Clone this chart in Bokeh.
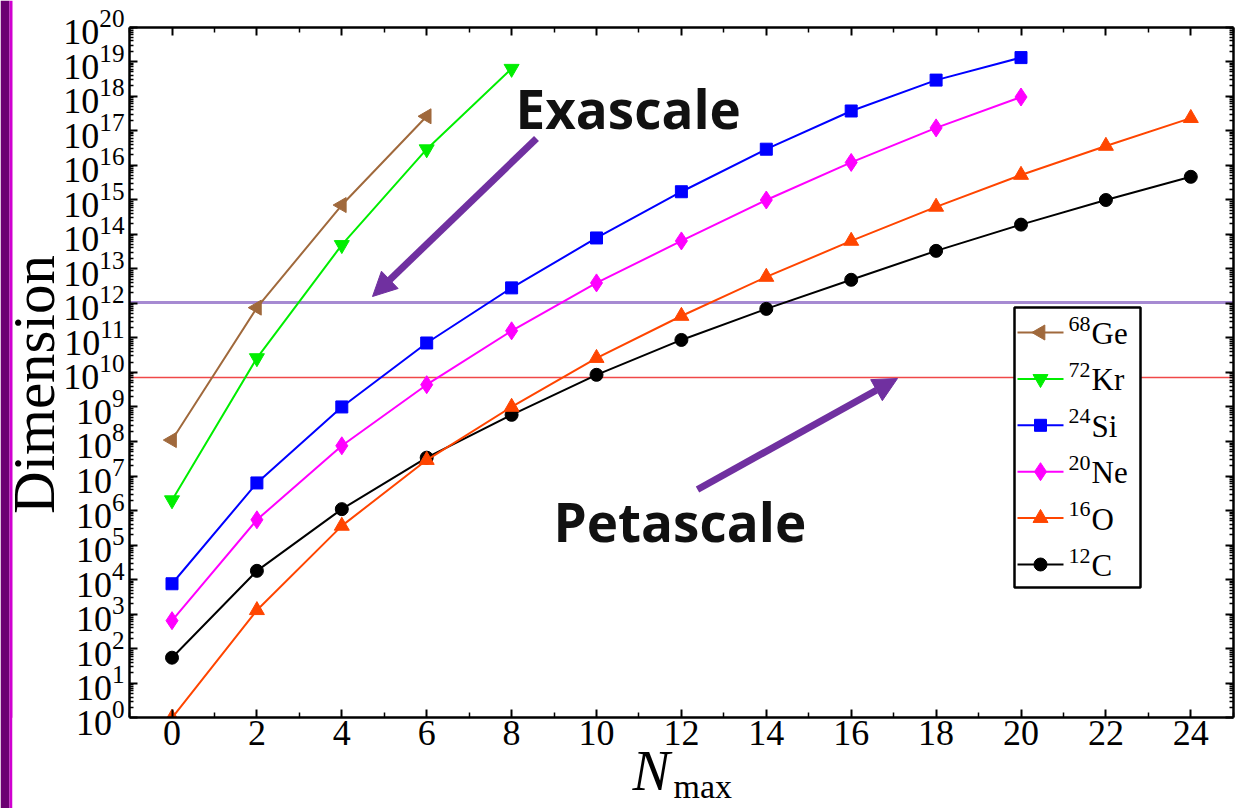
import math
from bokeh.plotting import figure
from bokeh.models import (Range1d, FixedTicker, LinearAxis, LogAxis, Arrow, NormalHead,
                          Label, CustomJSTickFormatter, BoxAnnotation)
from bokeh.embed import file_html
from bokeh.resources import INLINE

# ---------------- data ----------------
nmax = [0, 2, 4, 6, 8, 10, 12, 14, 16, 18, 20, 22, 24]
ge68 = [1.1e8, 7.5e11, 7.0e14, 2.6e17]
kr72 = [2.0e6, 2.6e10, 4.9e13, 2.9e16, 6.2e18]
si24 = [7.6e3, 6.3e6, 1.0e9, 7.1e10, 2.8e12, 7.8e13, 1.7e15, 2.9e16, 3.7e17, 2.9e18, 1.3e19]
ne20 = [650, 5.4e5, 7.5e7, 4.4e9, 1.6e11, 3.9e12, 6.4e13, 9.8e14, 1.2e16, 1.2e17, 9.4e17]
o16 = [1.0, 1.3e3, 3.6e5, 2.9e7, 1.0e9, 2.6e10, 4.3e11, 5.8e12, 6.4e13, 6.2e14, 5.2e15, 3.6e16, 2.3e17]
c12 = [55, 1.8e4, 1.1e6, 3.4e7, 5.9e8, 8.5e9, 8.7e10, 6.9e11, 4.8e12, 3.3e13, 1.9e14, 9.8e14, 4.6e15]

legend_elements = ["Ge", "Kr", "Si", "Ne", "O", "C"]
legend_masses = ["68", "72", "24", "20", "16", "12"]

exascale_level = 1.05e12
petascale_level = 7.1e9

x_lo, x_hi = -1, 25
y_lo, y_hi = 1.0, 1e20
x_major_ticks = [0, 2, 4, 6, 8, 10, 12, 14, 16, 18, 20, 22, 24]
x_minor_ticks = [-1, 1, 3, 5, 7, 9, 11, 13, 15, 17, 19, 21, 23, 25]
y_exponents = list(range(0, 21))
y_major_ticks = [10.0 ** k for k in y_exponents]
y_minor_ticks = [m * 10.0 ** k for k in range(0, 20) for m in range(2, 10)]

# ---------------- page layout calibration ----------------
W, H = 1240, 808
PX_X0, PX_PER_N = 171.5, 42.45     # page x of Nmax=0, px per unit
PX_Y0, PX_PER_DEC = 717.3, 34.54   # page y of 10^0, px per decade


def X(px):
    return (px - PX_X0) / PX_PER_N


def Y(py):
    return 10 ** ((PX_Y0 - py) / PX_PER_DEC)


SERIF = "Liberation Serif"
PURPLE = "#7030a0"

p = figure(width=W, height=H, x_range=Range1d(X(0), X(W)), y_range=Range1d(Y(H), Y(0)),
           y_axis_type="log", output_backend="svg", toolbar_location=None,
           min_border=0, min_border_left=0, min_border_right=0, min_border_top=0, min_border_bottom=0,
           background_fill_color="white", border_fill_color="white")
p.grid.visible = False
p.outline_line_color = None

# decorative slide strip on the left edge
p.add_layout(BoxAnnotation(left=X(0), right=X(9), fill_color="#6b0072", fill_alpha=1.0,
                           line_color=None, level="underlay"))
p.add_layout(BoxAnnotation(left=X(9), right=X(12), fill_color="#d000d0", fill_alpha=1.0,
                           line_color=None, level="underlay"))

bottom_axis = p.below[0]
left_axis = p.left[0]

xt = FixedTicker(ticks=x_major_ticks, minor_ticks=x_minor_ticks)
yt = FixedTicker(ticks=y_major_ticks, minor_ticks=y_minor_ticks)
bottom_axis.ticker = xt
left_axis.ticker = yt
bottom_axis.fixed_location = y_lo
bottom_axis.bounds = (x_lo, x_hi)
left_axis.fixed_location = x_lo
left_axis.bounds = (y_lo, y_hi)

blank = CustomJSTickFormatter(code="return ''")
top_axis = LinearAxis(ticker=xt, formatter=blank, fixed_location=y_hi, bounds=(x_lo, x_hi))
right_axis = LogAxis(ticker=yt, formatter=blank, fixed_location=x_hi, bounds=(y_lo, y_hi))
p.add_layout(top_axis, "above")
p.add_layout(right_axis, "right")

for ax in [bottom_axis, left_axis, top_axis, right_axis]:
    ax.axis_line_color = "black"
    ax.axis_line_width = 2.5
    ax.major_tick_in = 8
    ax.major_tick_out = 0
    ax.minor_tick_in = 4
    ax.minor_tick_out = 0
    ax.major_tick_line_color = "black"
    ax.major_tick_line_width = 2
    ax.minor_tick_line_color = "black"
    ax.minor_tick_line_width = 1.5
    ax.major_label_text_font = SERIF
    ax.major_label_text_font_size = "36px"
    ax.major_label_text_color = "black"

bottom_axis.major_label_standoff = 3
left_axis.major_label_standoff = 5
bottom_axis.minor_tick_in = 5
top_axis.minor_tick_in = 5
for ax in [top_axis, right_axis]:
    ax.major_label_standoff = 0
    ax.major_label_text_font_size = "2px"

# reference levels
p.segment(x0=[x_lo], x1=[x_hi], y0=[exascale_level], y1=[exascale_level], line_color="#a68ad2", line_width=3)
p.segment(x0=[x_lo], x1=[x_hi], y0=[petascale_level], y1=[petascale_level], line_color="#f04848", line_width=1.5)

# series (drawn bottom-up)
styles = [
    (nmax[:len(ge68)], ge68, "#a0693c", "triangle", math.pi / 2, 15),
    (nmax[:len(kr72)], kr72, "#00ee00", "inverted_triangle", 0, 15),
    (nmax[:len(si24)], si24, "#0000ff", "square", 0, 12),
    (nmax[:len(ne20)], ne20, "#ff00ff", "diamond", 0, 18),
    (nmax[:len(o16)], o16, "#ff4500", "triangle", 0, 15),
    (nmax[:len(c12)], c12, "#000000", "circle", 0, 13),
]
for xs, ys, color, marker, ang, size in reversed(styles):
    p.line(xs, ys, line_color=color, line_width=2)
    p.scatter(xs, ys, marker=marker, size=size, angle=ang, fill_color=color, line_color=color)

# mask anything drawn below the bottom axis (plot clipping)
p.add_layout(BoxAnnotation(left=X(12), right=X(W), top=y_lo, bottom=Y(H), fill_color="white",
                           fill_alpha=1.0, line_color=None, level="glyph"))

# legend (box, sample line+marker, mass number superscript, element)
LEG_LEFT, LEG_RIGHT, LEG_TOP, LEG_BOTTOM = 1014, 1140, 307, 587
LEG_ROW0, LEG_STEP = 332, 46.4
p.add_layout(BoxAnnotation(left=X(LEG_LEFT), right=X(LEG_RIGHT), top=Y(LEG_TOP), bottom=Y(LEG_BOTTOM),
                           fill_color="white", fill_alpha=1.0, line_color="black", line_width=2.5,
                           line_alpha=1.0))
for i, (xs, ys, color, marker, ang, size) in enumerate(styles):
    cy = LEG_ROW0 + i * LEG_STEP
    seg = p.segment(x0=[X(LEG_LEFT + 3)], x1=[X(LEG_LEFT + 49)], y0=[Y(cy)], y1=[Y(cy)],
                    line_color=color, line_width=2)
    seg.level = "overlay"
    mk = p.scatter([X(LEG_LEFT + 26)], [Y(cy)], marker=marker, size=size, angle=ang,
                   fill_color=color, line_color=color)
    mk.level = "overlay"
    p.add_layout(Label(x=X(LEG_LEFT + 54), y=Y(cy - 9), text=legend_masses[i], text_font=SERIF,
                       text_font_size="22px", text_color="black", text_baseline="middle",
                       text_align="left", level="overlay"))
    p.add_layout(Label(x=X(LEG_LEFT + 77), y=Y(cy + 1), text=legend_elements[i], text_font=SERIF,
                       text_font_size="31px", text_color="black", text_baseline="middle",
                       text_align="left", level="overlay"))

# arrows
exa_arrow = (X(536), Y(138), X(372), Y(296))
peta_arrow = (X(697), Y(489), X(897), Y(378))
for (xs0, ys0, xe, ye) in [exa_arrow, peta_arrow]:
    p.add_layout(Arrow(x_start=xs0, y_start=ys0, x_end=xe, y_end=ye, line_color=PURPLE, line_width=7,
                       end=NormalHead(size=24, fill_color=PURPLE, line_color=PURPLE)))

p.add_layout(Label(x=X(515), y=Y(108), text="Exascale", text_font="Open Sans", text_font_style="bold",
                   text_font_size="53px", text_color="#111111", text_baseline="middle"))
p.add_layout(Label(x=X(553), y=Y(521), text="Petascale", text_font="Open Sans", text_font_style="bold",
                   text_font_size="53px", text_color="#111111", text_baseline="middle"))

# axis titles
p.add_layout(Label(x=X(33), y=Y(384), text="Dimension", angle=math.pi / 2, text_font=SERIF,
                   text_font_size="59px", text_color="black", text_align="center", text_baseline="middle"))
p.add_layout(Label(x=X(632), y=Y(770), text="N", text_font=SERIF, text_font_style="italic",
                   text_font_size="56px", text_color="black", text_baseline="middle"))
p.add_layout(Label(x=X(673), y=Y(786), text="max", text_font=SERIF,
                   text_font_size="34px", text_color="black", text_baseline="middle"))

open("out.html", "w").write(file_html(p, INLINE))
